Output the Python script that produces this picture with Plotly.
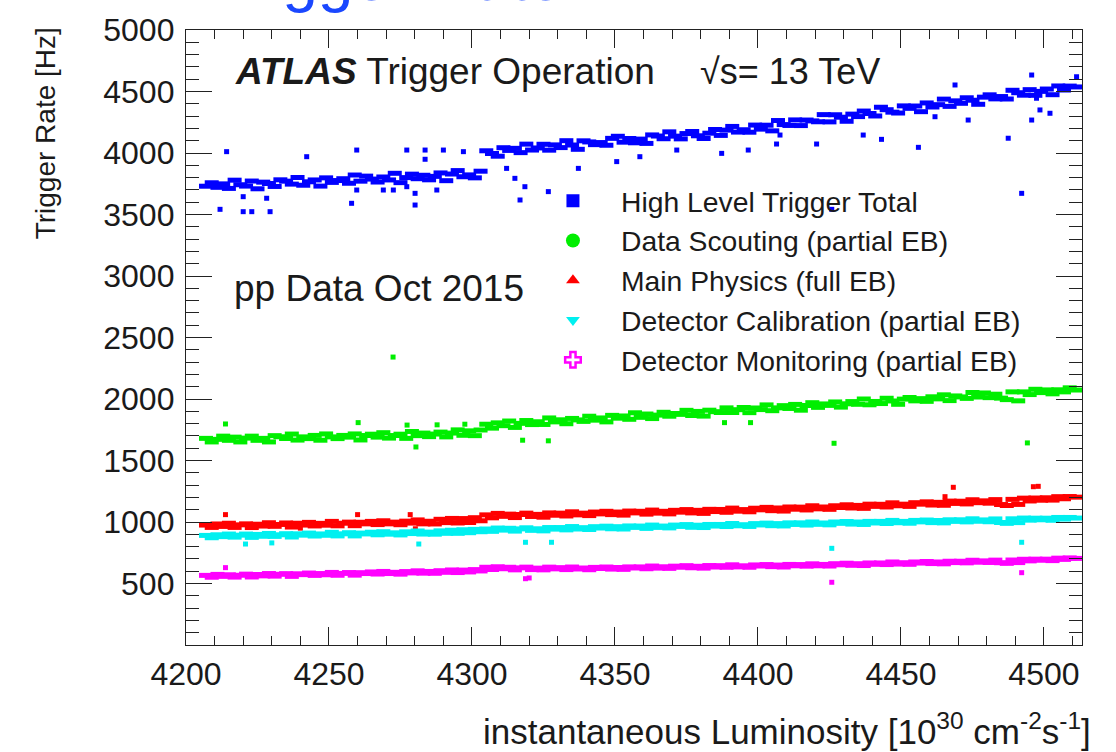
import plotly.graph_objects as go

# Instantaneous luminosity [1e30 cm^-2 s^-1] of each sampled lumi block
LUMI = [
    4207, 4209, 4211, 4213, 4215, 4217, 4219, 4221, 4223, 4225, 4227, 4229, 4231, 4233, 4235, 4237,
    4239, 4241, 4243, 4245, 4247, 4249, 4251, 4253, 4255, 4257, 4259, 4261, 4263, 4265, 4267, 4269,
    4271, 4273, 4275, 4277, 4279, 4281, 4283, 4285, 4287, 4289, 4291, 4293, 4295, 4297, 4299, 4301,
    4303,
    4305, 4307, 4309, 4311, 4313, 4315, 4317, 4319, 4321, 4323, 4325, 4327, 4329, 4331, 4333, 4335,
    4337, 4339, 4341, 4343, 4345, 4347, 4349, 4351, 4353, 4355, 4357, 4359, 4361, 4363, 4365, 4367,
    4369, 4371, 4373, 4375, 4377, 4379, 4381, 4383, 4385, 4387, 4389, 4391, 4393, 4395, 4397, 4399,
    4401, 4403, 4405, 4407, 4409, 4411, 4413, 4415, 4417, 4419, 4421, 4423, 4425, 4427, 4429, 4431,
    4433, 4435, 4437, 4439, 4441, 4443, 4445, 4447, 4449, 4451, 4453, 4455, 4457, 4459, 4461, 4463,
    4465, 4467, 4469, 4471, 4473, 4475, 4477, 4479, 4481, 4483, 4485, 4487, 4489, 4491, 4493, 4495,
    4497, 4499, 4501, 4503, 4505, 4507, 4509, 4511,
]

# Stream rates [Hz] at each luminosity above
HLT_TOTAL = [
    3730, 3758, 3721, 3749, 3712, 3779, 3742, 3731, 3772, 3709, 3763, 3752, 3728, 3782, 3771, 3747,
    3801, 3738, 3766, 3781, 3731, 3798, 3761, 3776, 3791, 3754, 3821, 3771, 3812, 3788, 3764, 3805,
    3781, 3835, 3759, 3800, 3828, 3791, 3819, 3782, 3810, 3838, 3775, 3829, 3857, 3807, 3822, 3798,
    3852,
    4018, 3996, 3974, 4043, 4021, 4038, 4003, 4072, 4024, 4041, 4071, 4023, 4066, 4044, 4100, 4065,
    4030, 4099, 4090, 4068, 4085, 4063, 4119, 4136, 4088, 4118, 4083, 4113, 4078, 4147, 4138, 4116,
    4172, 4137, 4115, 4158, 4175, 4140, 4118, 4161, 4191, 4143, 4186, 4216, 4170, 4189, 4169, 4227,
    4194, 4226, 4180, 4264, 4231, 4224, 4269, 4223, 4268, 4261, 4254, 4312, 4253, 4311, 4291, 4258,
    4316, 4296, 4341, 4321, 4301, 4372, 4352, 4332, 4325, 4383, 4363, 4382, 4336, 4407, 4374, 4393,
    4438, 4379, 4424, 4404, 4449, 4429, 4396, 4454, 4473, 4440, 4459, 4439, 4510, 4490, 4470, 4515,
    4469, 4501, 4520, 4474, 4545, 4512, 4544, 4537,
]
DATA_SCOUTING = [
    1680, 1651, 1672, 1698, 1664, 1690, 1651, 1682, 1698, 1664, 1680, 1651, 1702, 1693, 1679, 1715,
    1666, 1692, 1678, 1704, 1665, 1716, 1692, 1678, 1704, 1690, 1716, 1667, 1703, 1714, 1690, 1726,
    1682, 1703, 1714, 1680, 1736, 1702, 1723, 1694, 1715, 1731, 1692, 1723, 1749, 1705, 1741, 1702,
    1748,
    1795, 1763, 1806, 1783, 1821, 1769, 1802, 1825, 1792, 1815, 1793, 1846, 1814, 1831, 1799, 1842,
    1830, 1818, 1860, 1828, 1846, 1814, 1867, 1844, 1862, 1835, 1888, 1851, 1878, 1841, 1869, 1892,
    1860, 1882, 1875, 1908, 1866, 1899, 1861, 1909, 1897, 1890, 1928, 1890, 1913, 1931, 1889, 1927,
    1914, 1952, 1905, 1928, 1946, 1923, 1956, 1909, 1947, 1970, 1932, 1960, 1948, 1976, 1934, 1961,
    1979, 1957, 2000, 1953, 1980, 1963, 2006, 1984, 1957, 1999, 2012, 1985, 2003, 1981, 2018, 2001,
    2034, 1987, 2025, 2017, 2005, 2053, 2016, 2049, 2011, 2039, 2007, 1995, 2058, 1985, 2058, 2036,
    2079, 2052, 2074, 2042, 2075, 2058, 2091, 2073,
]
MAIN_PHYSICS = [
    975, 956, 984, 964, 990, 956, 977, 985, 955, 982, 967, 994, 965, 980, 992, 959,
    990, 975, 997, 968, 989, 974, 1005, 969, 990, 999, 970, 998, 985, 1005, 979, 1010,
    985, 999, 978, 1007, 991, 1017, 985, 1006, 984, 1022, 995, 1029, 992, 1028, 996, 1035,
    1010,
    1058, 1034, 1070, 1046, 1064, 1036, 1061, 1072, 1045, 1062, 1039, 1074, 1055, 1072, 1049, 1083,
    1058, 1072, 1052, 1081, 1066, 1087, 1060, 1081, 1056, 1089, 1074, 1087, 1064, 1097, 1072, 1087,
    1066, 1095, 1080, 1101, 1074, 1095, 1070, 1103, 1085, 1102, 1079, 1113, 1088, 1101, 1083, 1112,
    1099, 1119, 1092, 1114, 1089, 1122, 1104, 1121, 1098, 1132, 1107, 1122, 1103, 1132, 1118, 1140,
    1114, 1135, 1111, 1145, 1127, 1144, 1122, 1156, 1132, 1145, 1127, 1157, 1145, 1164, 1138, 1160,
    1136, 1170, 1151, 1169, 1147, 1181, 1157, 1172, 1153, 1182, 1142, 1134, 1184, 1143, 1194, 1171,
    1195, 1177, 1197, 1178, 1206, 1189, 1207, 1202,
]
DET_CALIBRATION = [
    891, 872, 896, 881, 902, 877, 893, 902, 875, 899, 884, 907, 883, 896, 905, 878,
    904, 893, 910, 886, 903, 892, 916, 887, 904, 913, 887, 910, 903, 917, 896, 921,
    901, 912, 895, 920, 906, 927, 902, 918, 901, 928, 908, 933, 908, 937, 913, 940,
    921,
    943, 924, 951, 934, 949, 926, 944, 953, 932, 945, 928, 955, 942, 955, 936, 963,
    943, 954, 939, 962, 951, 966, 945, 962, 943, 968, 956, 967, 948, 975, 956, 967,
    952, 975, 964, 979, 957, 974, 955, 980, 967, 980, 963, 988, 969, 978, 964, 987,
    976, 991, 970, 987, 968, 993, 980, 993, 975, 1000, 981, 992, 977, 1000, 989, 1004,
    983, 1000, 980, 1005, 992, 1005, 988, 1013, 994, 1005, 990, 1013, 1001, 1016, 995, 1012,
    993, 1018, 1005, 1018, 1001, 1026, 1006, 1017, 1002, 1025, 996, 989, 1026, 995, 1032, 1015,
    1031, 1018, 1031, 1014, 1037, 1024, 1037, 1032,
]
DET_MONITORING = [
    566, 551, 574, 558, 571, 552, 567, 576, 553, 573, 562, 581, 560, 575, 580, 558,
    579, 572, 585, 566, 581, 571, 590, 567, 582, 589, 568, 588, 581, 594, 577, 598,
    581, 591, 576, 597, 586, 603, 584, 598, 583, 604, 591, 610, 589, 609, 594, 613,
    602,
    632, 614, 636, 620, 632, 611, 627, 633, 613, 625, 611, 633, 619, 629, 613, 634,
    618, 626, 612, 631, 622, 634, 617, 630, 615, 635, 626, 635, 620, 642, 625, 636,
    623, 641, 632, 645, 628, 640, 625, 646, 634, 645, 632, 652, 635, 644, 632, 651,
    642, 654, 637, 650, 634, 655, 644, 654, 641, 660, 644, 655, 642, 661, 652, 665,
    648, 661, 646, 667, 656, 667, 654, 675, 658, 669, 656, 675, 666, 679, 662, 675,
    660, 681, 670, 681, 668, 689, 673, 684, 671, 690, 669, 664, 691, 670, 697, 684,
    698, 689, 698, 686, 706, 696, 708, 704,
]

# Isolated lumi blocks away from the main trend of each stream
HLT_OUT_LUMI = [4214.2, 4242.2, 4259.7, 4277.2, 4283.6, 4283.6, 4290.0, 4297.0, 4211.9, 4220.0,
                4220.0, 4223.0, 4229.4, 4228.2, 4257.9, 4259.7, 4269.0, 4272.5, 4277.2, 4280.1,
                4280.1, 4287.7, 4316.8, 4318.5, 4326.7, 4312.1, 4315.0, 4337.2, 4350.6, 4358.7,
                4371.6, 4387.3, 4396.6, 4406.5, 4407.7, 4420.5, 4436.8, 4443.2, 4456.1, 4461.9,
                4468.9, 4473.5, 4487.5, 4492.2, 4495.7, 4495.7, 4498.6, 4502.1, 4511.4, 4497.4,
                4425.8]
HLT_OUT_RATE = [4011, 3970, 4024, 4024, 4024, 3949, 4024, 4011, 3542, 3645,
                3523, 3523, 3523, 3632, 3591, 3699, 3699, 3699, 3726, 3672,
                3577, 3699, 3618, 3726, 3686, 3875, 3794, 3875, 3930, 3970,
                4024, 3997, 4024, 4073, 4146, 4073, 4146, 4111, 4046, 4295,
                4553, 4268, 4120, 3672, 4634, 4268, 4350, 4323, 4620, 4445,
                3542]
DS_OUT_LUMI = [4213.8, 4260.2, 4277.3, 4287.8, 4297.5, 4280.4, 4317.7, 4326.7, 4426.6, 4494.2,
               4388.3, 4397.4, 4272.4]
DS_OUT_RATE = [1797, 1808, 1788, 1790, 1795, 1610, 1665, 1660, 1640, 1643,
               1808, 1808, 2341]
MP_OUT_LUMI = [4213.8, 4260.0, 4278.4, 4468.3, 4496.3, 4498.0, 4465.4, 4280.2, 4240.0]
MP_OUT_RATE = [1060, 1060, 1060, 1282, 1287, 1290, 1206, 945, 950]
DC_OUT_LUMI = [4220.8, 4281.4, 4318.7, 4327.8, 4425.8, 4492.2, 4230.0]
DC_OUT_RATE = [821, 821, 835, 835, 786, 835, 830]
DM_OUT_LUMI = [4318.7, 4425.8, 4492.2, 4213.8, 4320.0]
DM_OUT_RATE = [539, 510, 588, 629, 545]

STREAMS = [
    ("High Level Trigger Total", HLT_TOTAL, HLT_OUT_LUMI, HLT_OUT_RATE, "#0000ff", "square", 13),
    ("Data Scouting (partial EB)", DATA_SCOUTING, DS_OUT_LUMI, DS_OUT_RATE, "#00ee00", "circle", 14),
    ("Main Physics (full EB)", MAIN_PHYSICS, MP_OUT_LUMI, MP_OUT_RATE, "#ff0000", "triangle-up", 12),
    ("Detector Calibration (partial EB)", DET_CALIBRATION, DC_OUT_LUMI, DC_OUT_RATE, "#00f0f0", "triangle-down", 12),
    ("Detector Monitoring (partial EB)", DET_MONITORING, DM_OUT_LUMI, DM_OUT_RATE, "#ff00ff", "cross-open", 13),
]

FONT = "Liberation Sans, Arial, Helvetica, sans-serif"
INK = "#1a1a1a"

fig = go.Figure()

for name, rates, out_lumi, out_rate, color, symbol, leg_size in STREAMS:
    # dense run of lumi blocks: short horizontal bars so neighbours merge into a band
    fig.add_trace(go.Scatter(
        x=LUMI, y=rates, mode="markers", name=name, showlegend=False,
        marker=dict(symbol="line-ew", size=10, color=color,
                    line=dict(width=5, color=color)),
    ))
    # isolated lumi blocks
    fig.add_trace(go.Scatter(
        x=out_lumi, y=out_rate, mode="markers", name=name, showlegend=False,
        marker=dict(symbol="square", size=5, color=color, line=dict(width=0)),
    ))
    # legend entry with the stream's symbol
    fig.add_trace(go.Scatter(
        x=[None], y=[None], mode="markers", name=name,
        marker=dict(symbol=symbol, size=leg_size, color=color,
                    line=dict(width=2.5 if symbol.endswith("open") else 0, color=color)),
    ))

fig.update_layout(
    width=1116, height=752,
    margin=dict(l=186, r=34, t=30, b=107),
    paper_bgcolor="white", plot_bgcolor="white",
    font=dict(family=FONT, color=INK),
    showlegend=True,
    legend=dict(
        x=0.3783, y=0.763, xanchor="left", yanchor="top",
        font=dict(size=28.3, color=INK, family=FONT),
        bgcolor="rgba(0,0,0,0)", borderwidth=0,
        itemwidth=86, tracegroupgap=0,
    ),
    xaxis=dict(
        range=[4200, 4513.3], tickmode="linear", tick0=4200, dtick=50,
        ticks="inside", ticklen=18, tickwidth=1.3, tickcolor="#222",
        minor=dict(ticks="inside", ticklen=9, tickwidth=1.1, tickcolor="#222",
                   tickmode="linear", tick0=4200, dtick=10),
        showline=True, linecolor="#222", linewidth=1.3, mirror="ticks",
        showgrid=False, zeroline=False,
        tickfont=dict(size=32, color=INK, family=FONT),
    ),
    yaxis=dict(
        range=[0, 5000], tickmode="array",
        tickvals=[500, 1000, 1500, 2000, 2500, 3000, 3500, 4000, 4500, 5000],
        ticks="inside", ticklen=26, tickwidth=1.3, tickcolor="#222",
        minor=dict(ticks="inside", ticklen=13, tickwidth=1.1, tickcolor="#222",
                   tickmode="linear", tick0=0, dtick=100),
        showline=True, linecolor="#222", linewidth=1.3, mirror="ticks",
        showgrid=False, zeroline=False,
        tickfont=dict(size=32, color=INK, family=FONT),
        ticklabelstandoff=4,
    ),
)

annotations = [
    # page heading running off the top edge
    dict(text="Trigger Rate", x=0.0246, y=1.0235, xref="paper", yref="paper",
         xanchor="left", yanchor="bottom", showarrow=False,
         font=dict(size=64, color="#1a47ff", family=FONT)),
    dict(text="<b><i>ATLAS</i></b> Trigger Operation", x=0.0525, y=0.933, xref="paper", yref="paper",
         xanchor="left", yanchor="middle", showarrow=False,
         font=dict(size=37, color=INK, family=FONT)),
    dict(text="\u221as= 13 TeV", x=0.5714, y=0.933, xref="paper", yref="paper",
         xanchor="left", yanchor="middle", showarrow=False,
         font=dict(size=36, color=INK, family=FONT)),
    dict(text="pp Data Oct 2015", x=0.0513, y=0.579, xref="paper", yref="paper",
         xanchor="left", yanchor="middle", showarrow=False,
         font=dict(size=37, color=INK, family=FONT)),
    dict(text="Trigger Rate [Hz]", x=-0.157, y=0.8325, xref="paper", yref="paper",
         xanchor="center", yanchor="middle", textangle=-90, showarrow=False,
         font=dict(size=28, color=INK, family=FONT)),
    dict(text="instantaneous Luminosity [10<sup>30</sup> cm<sup>-2</sup>s<sup>-1</sup>]",
         x=1.0123, y=-0.1365, xref="paper", yref="paper",
         xanchor="right", yanchor="middle", showarrow=False,
         font=dict(size=35, color=INK, family=FONT)),
]
fig.update_layout(annotations=annotations)

fig.write_html("out.html")
